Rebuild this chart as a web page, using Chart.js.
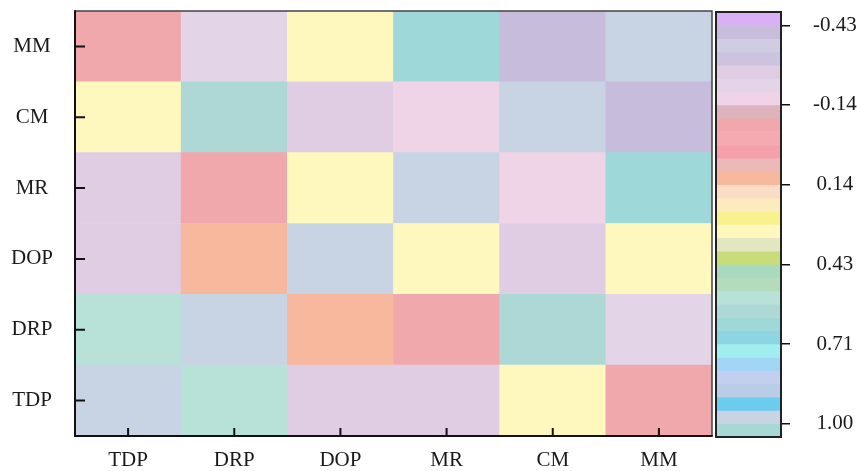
<!DOCTYPE html>
<html><head><meta charset="utf-8">
<script src="https://cdn.jsdelivr.net/npm/chart.js@4.4.0/dist/chart.umd.min.js"></script>
<style>
html,body{margin:0;padding:0;background:#fff;width:857px;height:471px;overflow:hidden}
#heat{position:absolute;left:0;top:0}
#bar{position:absolute;left:700px;top:0}
</style></head><body>
<canvas id="heat" width="715" height="471"></canvas>
<canvas id="bar" width="157" height="471"></canvas>
<script>
// ---- data ----
const variables = ['TDP','DRP','DOP','MR','CM','MM'];
const rowTDP = [1.00, 0.55, -0.26, -0.26, 0.31, -0.07];
const rowDRP = [0.55, 1.00, 0.12, -0.07, 0.60, -0.21];
const rowDOP = [-0.26, 0.12, 1.00, 0.31, -0.26, 0.31];
const rowMR  = [-0.26, -0.07, 0.31, 1.00, -0.17, 0.64];
const rowCM  = [0.31, 0.60, -0.26, -0.17, 1.00, -0.40];
const rowMM  = [-0.07, -0.21, 0.31, 0.64, -0.40, 1.00];
const cbTickValues = [-0.4286, -0.1429, 0.1429, 0.4286, 0.7143, 1.00];
const cbTickLabels = ['-0.43','-0.14','0.14','0.43','0.71','1.00'];
const cbMin = -10/21, cbMax = 22/21;
const bandColors = ['#D9B0F5','#C8BCDD','#D0CDE3','#CCC3E0','#E0CCE3','#E4D4E8','#EED4E6','#DDB4BC',
  '#F0A8AC','#F5A9B0','#F4A1AB','#EDB8B8','#F8B89E','#FBDCC4','#FDEBC0','#F8F18E',
  '#FEF8BE','#E4E6BF','#C8DD7A','#A9D9BE','#B4DBBC','#B8E2D8','#AED8D5','#9ED8D9',
  '#8ED5E3','#A0EEF0','#A3D6F6','#C2CFEF','#B9CDE6','#6CCCEF','#C8D4E4','#A8D8D6'];
const rows = [rowTDP,rowDRP,rowDOP,rowMR,rowCM,rowMM];

const nB = bandColors.length;
const step = (cbMax - cbMin) / nB;
function colorFor(v){
  let i = Math.ceil((v - cbMin) / step - 1e-9) - 1;
  i = Math.max(0, Math.min(nB-1, i));
  return bandColors[i];
}
const FONT = {family: '"Liberation Serif", "Times New Roman", serif', size: 21};
const TXT = '#1a1a1a';
function noPad(s){ s.paddingTop = 0; s.paddingBottom = 0; s.paddingLeft = 0; s.paddingRight = 0; }

const heatFrame = {
  id: 'heatFrame',
  afterDatasetsDraw(chart){
    const {ctx, chartArea: a, scales} = chart;
    ctx.save();
    ctx.strokeStyle = '#444'; ctx.lineWidth = 1.5;
    ctx.beginPath();
    ctx.moveTo(a.left, a.top); ctx.lineTo(a.right, a.top); ctx.lineTo(a.right, a.bottom);
    ctx.stroke();
    ctx.strokeStyle = '#111'; ctx.lineWidth = 2;
    ctx.beginPath();
    ctx.moveTo(a.left, a.top - 0.75); ctx.lineTo(a.left, a.bottom); ctx.lineTo(a.right + 0.75, a.bottom);
    ctx.stroke();
    ctx.lineWidth = 2;
    ctx.beginPath();
    scales.x.ticks.forEach((t, i) => {
      const px = scales.x.getPixelForTick(i);
      ctx.moveTo(px, a.bottom); ctx.lineTo(px, a.bottom - 8);
    });
    scales.y.ticks.forEach((t, i) => {
      const py = scales.y.getPixelForTick(i);
      ctx.moveTo(a.left, py); ctx.lineTo(a.left + 10, py);
    });
    ctx.stroke();
    ctx.restore();
  }
};

new Chart(document.getElementById('heat'), {
  type: 'bar',
  data: {
    labels: variables,
    datasets: rows.map((row, r) => ({
      label: variables[r],
      data: row.map(() => [r, r + 1]),
      backgroundColor: row.map(colorFor),
      borderWidth: 0,
      grouped: false,
      barPercentage: 1,
      categoryPercentage: 1
    }))
  },
  options: {
    responsive: false,
    animation: false,
    layout: {padding: {top: 11, right: 3, left: 0, bottom: 0}},
    plugins: {legend: {display: false}, tooltip: {enabled: false}},
    scales: {
      x: {
        type: 'category',
        grid: {display: false}, border: {display: false},
        ticks: {font: FONT, color: TXT, padding: 4, maxRotation: 0},
        afterFit: s => { s.height = 35; noPad(s); }
      },
      y: {
        type: 'linear', min: 0, max: 6,
        grid: {display: false}, border: {display: false},
        afterBuildTicks: s => { s.ticks = variables.map((_, i) => ({value: i + 0.5})); },
        ticks: {font: FONT, color: TXT, padding: 14, crossAlign: 'center', autoSkip: false,
          callback: v => variables[Math.floor(v)]},
        afterFit: s => { s.width = 75; noPad(s); }
      }
    }
  },
  plugins: [heatFrame]
});

const barFrame = {
  id: 'barFrame',
  afterDatasetsDraw(chart){
    const {ctx, chartArea: a} = chart;
    ctx.save();
    ctx.strokeStyle = '#222'; ctx.lineWidth = 2;
    ctx.strokeRect(a.left, a.top, a.right - a.left, a.bottom - a.top);
    ctx.restore();
  }
};

new Chart(document.getElementById('bar'), {
  type: 'bar',
  data: {
    labels: ['cb'],
    datasets: bandColors.map((c, k) => ({
      data: [[cbMin + k * step, cbMin + (k + 1) * step]],
      backgroundColor: c,
      borderWidth: 0,
      grouped: false,
      barPercentage: 1,
      categoryPercentage: 1
    }))
  },
  options: {
    responsive: false,
    animation: false,
    layout: {padding: {top: 12, left: 16, bottom: 34, right: 0}},
    plugins: {legend: {display: false}, tooltip: {enabled: false}},
    scales: {
      x: {display: false},
      y: {
        type: 'linear', position: 'right', min: cbMin, max: cbMax, reverse: true,
        border: {display: false},
        grid: {drawOnChartArea: false, drawTicks: true, tickLength: 9, color: '#111', lineWidth: 1.5},
        afterBuildTicks: s => { s.ticks = cbTickValues.map(v => ({value: v})); },
        ticks: {font: FONT, color: TXT, padding: 23, crossAlign: 'center', autoSkip: false,
          callback: (v, i) => cbTickLabels[i]},
        afterFit: s => { s.width = 76; noPad(s); }
      }
    }
  },
  plugins: [barFrame]
});
</script>
</body></html>
